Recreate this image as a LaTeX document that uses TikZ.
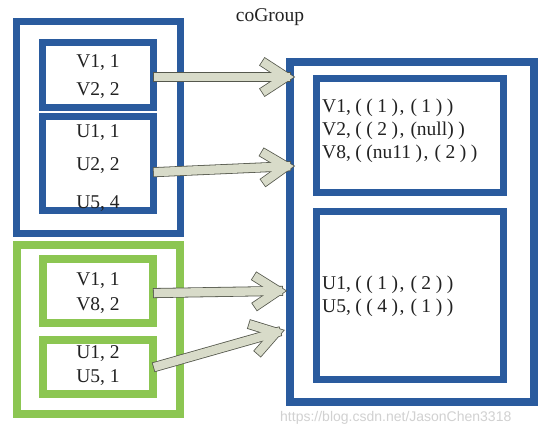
\documentclass[tikz,border=0pt]{standalone}
\usepackage{fontspec}
\setmainfont{Liberation Serif}
\newfontfamily\wmfont{Liberation Sans}
\usetikzlibrary{calc}
\definecolor{boxblue}{HTML}{2A5B9E}
\definecolor{boxgreen}{HTML}{8CC652}
\definecolor{arrowfill}{HTML}{D8DBC9}
\definecolor{arrowline}{HTML}{55584D}
\definecolor{txt}{HTML}{222222}
\tikzset{
  box/.style={draw, outer sep=0pt, inner sep=0pt},
  bluebox/.style={box, draw=boxblue, line width=7pt},
  bluethick/.style={box, draw=boxblue, line width=8pt},
  greenbox/.style={box, draw=boxgreen, line width=8pt},
  lbl/.style={font=\fontsize{19.5}{19.5}\selectfont, text=txt, inner sep=0pt},
  rlbl/.style={lbl, anchor=west},
  arrowout/.style={draw=arrowline, line width=10pt, line cap=rect, line join=miter},
  arrowin/.style={draw=arrowfill, line width=8.4pt, line cap=rect, line join=miter},
}
\newcommand{\myarrow}[2]{%
  \coordinate (ap) at ($(#2)!20pt!(#1)$);
  \coordinate (aa) at ($(ap)!13pt!90:(#2)$);
  \coordinate (ab) at ($(ap)!13pt!-90:(#2)$);
  \draw[arrowout] (#1) -- (#2);
  \draw[arrowout] (aa) -- (#2) -- (ab);
  \draw[arrowin] (#1) -- (#2);
  \draw[arrowin] (aa) -- (#2) -- (ab);
}
\newcommand{\g}{\kern4.5pt}
\newcommand{\gc}{\kern1.5pt,\kern6pt}
\begin{document}
\begin{tikzpicture}[x=1pt,y=-1pt]
\useasboundingbox (0,0) rectangle (551,435);
\fill[white] (0,0) rectangle (551,435);
% left blue group
\node[bluebox, minimum width=164pt, minimum height=212pt] (lb) at (98.5,127.5) {};
\node[bluebox, minimum width=111pt, minimum height=65pt] (lb1) at (98,75) {};
\node[bluebox, minimum width=111pt, minimum height=94pt] (lb2) at (98,163.5) {};
% left green group
\node[greenbox, minimum width=163pt, minimum height=169pt] (lg) at (98.5,329.5) {};
\node[greenbox, minimum width=110pt, minimum height=64pt] (lg1) at (98,291) {};
\node[greenbox, minimum width=110pt, minimum height=54pt] (lg2) at (98,367) {};
% right result
\node[bluethick, minimum width=244pt, minimum height=340pt] (ro) at (412,232) {};
\node[bluebox, minimum width=187pt, minimum height=114pt] (r1) at (410,135.5) {};
\node[bluebox, minimum width=187pt, minimum height=168pt] (r2) at (410,295.5) {};
% title
\node[lbl] (title) at (270,17) {coGroup};
% left texts
\node[lbl] (t1) at (98,63) {V1, 1};
\node[lbl] (t2) at (98,91) {V2, 2};
\node[lbl] (t3) at (98,133) {U1, 1};
\node[lbl] (t4) at (98,166) {U2, 2};
\node[lbl] (t5) at (98,204) {U5, 4};
\node[lbl] (t6) at (98,281) {V1, 1};
\node[lbl] (t7) at (98,306) {V8, 2};
\node[lbl] (t8) at (98,354) {U1, 2};
\node[lbl] (t9) at (98,378) {U5, 1};
% right texts
\node[rlbl] (r1a) at (322,108) {V1,\g(\g(\g1\g)\gc(\g1\g)\g)};
\node[rlbl] (r1b) at (322,131) {V2,\g(\g(\g2\g)\gc(null)\g)};
\node[rlbl] (r1c) at (322,154) {V8,\g(\g(nu11\g)\gc(\g2\g)\g)};
\node[rlbl] (r2a) at (322,285) {U1,\g(\g(\g1\g)\gc(\g2\g)\g)};
\node[rlbl] (r2b) at (322,308) {U5,\g(\g(\g4\g)\gc(\g1\g)\g)};
% watermark
\node[anchor=west, inner sep=0pt, text=black!18, font=\wmfont\fontsize{14}{14}\selectfont] (wm) at (280,418) {https://blog.csdn.net/JasonChen3318};
% arrow end points
\coordinate (s1) at (158,77);
\coordinate (e1) at (286,77);
\coordinate (s2) at (158,172);
\coordinate (e2) at (286,166.4);
\coordinate (s3) at (158,293);
\coordinate (e3) at (278,291);
\coordinate (s4) at (158,366);
\coordinate (e4) at (276,332.5);
\myarrow{s1}{e1}
\myarrow{s2}{e2}
\myarrow{s3}{e3}
\myarrow{s4}{e4}
\end{tikzpicture}
\end{document}
